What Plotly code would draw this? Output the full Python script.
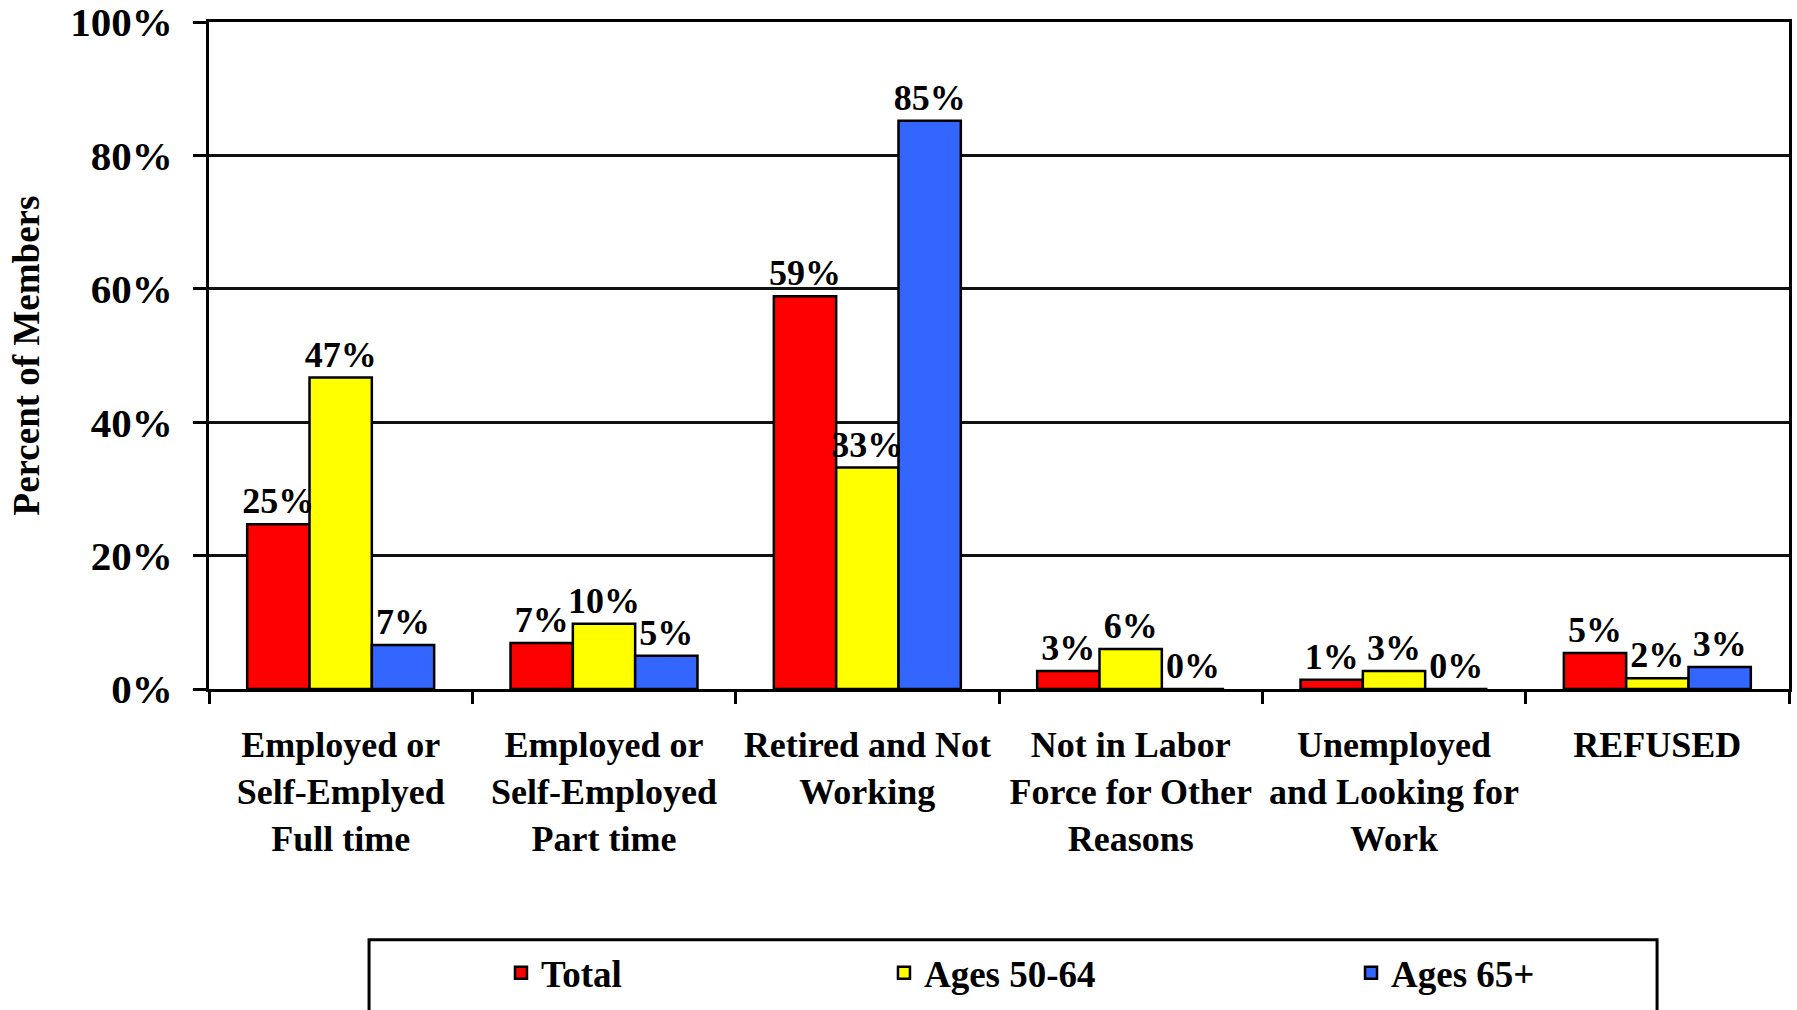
import plotly.graph_objects as go

categories = [
    "Employed or<br>Self-Emplyed<br>Full time",
    "Employed or<br>Self-Employed<br>Part time",
    "Retired and Not<br>Working",
    "Not in Labor<br>Force for Other<br>Reasons",
    "Unemployed<br>and Looking for<br>Work",
    "REFUSED",
]
total = [24.7, 6.9, 58.9, 2.7, 1.4, 5.4]
ages_50_64 = [46.7, 9.8, 33.2, 6.0, 2.7, 1.6]
ages_65_plus = [6.6, 5.0, 85.2, 0.0, 0.0, 3.3]
y_ticks = [0, 20, 40, 60, 80, 100]
y_tick_labels = ["0%", "20%", "40%", "60%", "80%", "100%"]

FONT = "Liberation Serif"


def bold(size):
    return dict(family=FONT, size=size, color="black", weight="bold")


# three bars side by side in each category, filling 71% of the slot
BAR_W = 0.71 / 3
series = [
    ("Total", total, "#FF0000", "legend", -1.5 * BAR_W),
    ("Ages 50-64", ages_50_64, "#FFFF00", "legend2", -0.5 * BAR_W),
    ("Ages 65+", ages_65_plus, "#3366FF", "legend3", 0.5 * BAR_W),
]

fig = go.Figure()
# filled bars first
for name, vals, color, leg, off in series:
    fig.add_trace(go.Bar(
        name=name,
        x=categories,
        y=vals,
        width=BAR_W,
        offset=off,
        marker=dict(color=color, line=dict(color="black", width=2.5)),
        legend=leg,
        showlegend=True,
    ))
# value labels on a top layer so they sit over neighbouring bars
for name, vals, color, leg, off in series:
    fig.add_trace(go.Bar(
        name=name,
        x=categories,
        y=vals,
        width=BAR_W,
        offset=off,
        marker=dict(color="rgba(0,0,0,0)", line=dict(width=0)),
        texttemplate="%{y:.0f}%",
        textposition="outside",
        constraintext="none",
        textfont=bold(36),
        cliponaxis=False,
        showlegend=False,
        hoverinfo="skip",
    ))

legend_style = dict(
    orientation="h",
    yanchor="middle",
    y=-0.426,
    xanchor="left",
    font=bold(37),
    bgcolor="rgba(0,0,0,0)",
    borderwidth=0,
)

fig.update_layout(
    width=1797,
    height=1010,
    margin=dict(l=209, r=8, t=22, b=321, autoexpand=False),
    paper_bgcolor="white",
    plot_bgcolor="white",
    barmode="overlay",
    showlegend=True,
    font=dict(family=FONT, color="black"),
    legend=dict(x=0.1848, **legend_style),
    legend2=dict(x=0.4272, **legend_style),
    legend3=dict(x=0.7228, **legend_style),
    xaxis=dict(
        automargin=False,
        tickson="boundaries",
        ticks="outside",
        ticklen=12,
        tickwidth=2.5,
        tickcolor="black",
        showline=True,
        linecolor="black",
        linewidth=3,
        mirror=True,
        showgrid=False,
        tickfont=bold(36),
        ticklabelstandoff=22,
    ),
    yaxis=dict(
        automargin=False,
        range=[0, 100],
        tickvals=y_ticks,
        ticktext=y_tick_labels,
        ticks="outside",
        ticklen=13,
        tickwidth=2.5,
        tickcolor="black",
        showline=True,
        linecolor="black",
        linewidth=3,
        mirror=True,
        showgrid=True,
        gridcolor="#111111",
        gridwidth=2.5,
        zeroline=False,
        tickfont=bold(41),
        ticklabelstandoff=12,
        ticklabeloverflow="allow",
        title=dict(
            text="Percent of Members",
            font=bold(37),
            standoff=20,
        ),
    ),
    shapes=[
        dict(
            type="rect",
            xref="paper", yref="paper",
            x0=0.1013, x1=0.9165, y0=-0.52, y1=-0.376,
            line=dict(color="black", width=3),
            fillcolor="rgba(0,0,0,0)",
            layer="below",
        )
    ],
)

fig.write_html("out.html")
